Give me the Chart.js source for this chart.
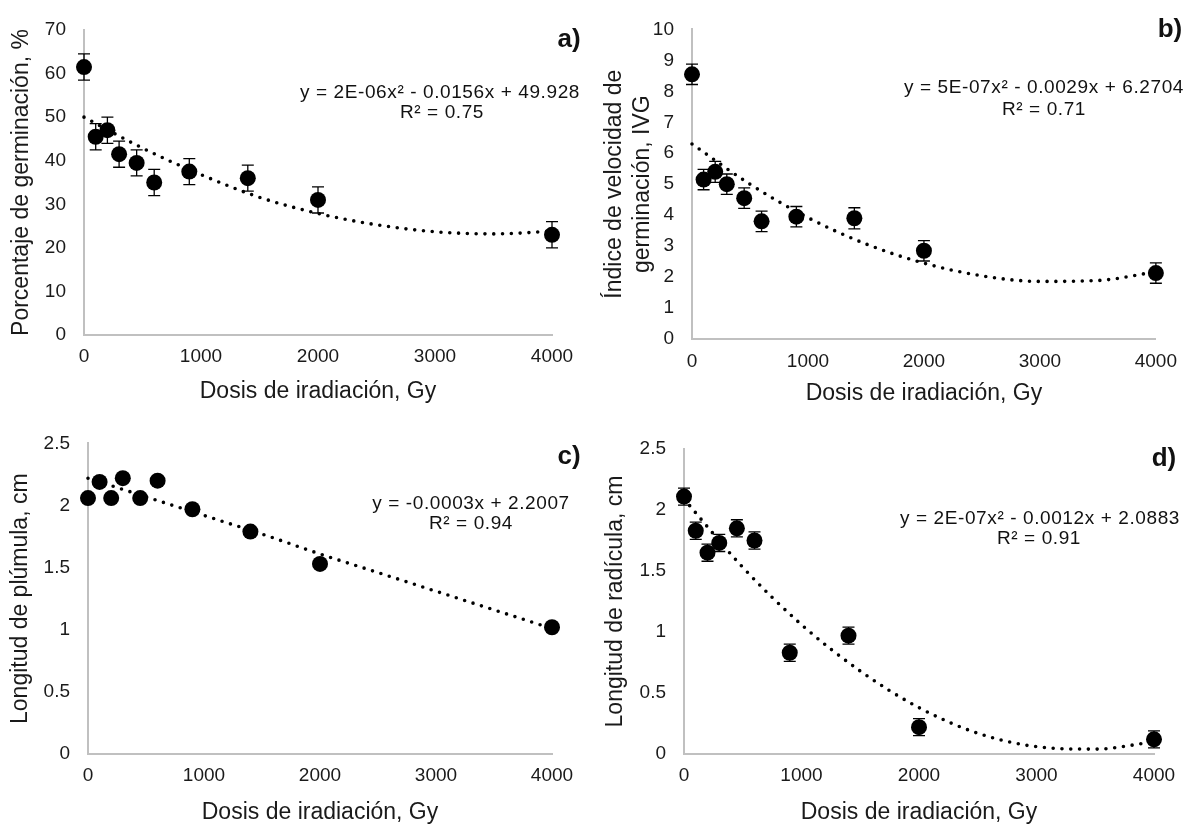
<!DOCTYPE html>
<html>
<head>
<meta charset="utf-8">
<script src="https://cdn.jsdelivr.net/npm/chart.js@4.4.1/dist/chart.umd.min.js"></script>
<style>
  body { margin: 0; background: #fff; }
  #wrap { position: relative; width: 1188px; height: 827px; }
  canvas { position: absolute; }
</style>
</head>
<body>
<div id="wrap">
  <canvas id="panelA" width="594" height="414" style="left:0;top:0"></canvas>
  <canvas id="panelB" width="594" height="414" style="left:594px;top:0"></canvas>
  <canvas id="panelC" width="594" height="413" style="left:0;top:414px"></canvas>
  <canvas id="panelD" width="594" height="413" style="left:594px;top:414px"></canvas>
</div>
<script>
// dosis de irradiación (Gy)
const doses = [0, 100, 200, 300, 450, 600, 900, 1400, 2000, 4000];

// a) porcentaje de germinación
const germinacion = [61.5, 45.5, 47.0, 41.5, 39.5, 35.0, 37.5, 36.0, 31.0, 23.0];
const germinacionErr = [3, 3, 3, 3, 3, 3, 3, 3, 3, 3];
// b) índice de velocidad de germinación
const ivg = [8.55, 5.15, 5.4, 5.0, 4.55, 3.8, 3.95, 3.9, 2.85, 2.13];
const ivgErr = [0.33, 0.33, 0.34, 0.33, 0.33, 0.33, 0.33, 0.34, 0.33, 0.33];
// c) longitud de plúmula
const plumula = [2.06, 2.19, 2.06, 2.22, 2.06, 2.2, 1.97, 1.79, 1.53, 1.02];
const plumulaErr = [0.02, 0.02, 0.02, 0.02, 0.02, 0.02, 0.02, 0.02, 0.02, 0.02];
// d) longitud de radícula
const radicula = [2.11, 1.83, 1.65, 1.73, 1.85, 1.75, 0.83, 0.97, 0.22, 0.12];
const radiculaErr = [0.07, 0.07, 0.07, 0.07, 0.07, 0.07, 0.07, 0.07, 0.07, 0.07];

// líneas de tendencia
const trendDoses = [0, 500, 1000, 1500, 2000, 2500, 3000, 3500, 4000];
const germinacionTrend = [50.0, 42.9, 36.8, 31.6, 27.9, 25.3, 23.7, 23.2, 23.8];
const ivgTrend = [6.3, 5.0, 3.92, 3.07, 2.45, 2.04, 1.86, 1.89, 2.17];
const plumulaTrend = [2.22, 2.07, 1.92, 1.77, 1.61, 1.46, 1.31, 1.16, 1.01];
const radiculaTrend = [2.09, 1.53, 1.06, 0.68, 0.38, 0.17, 0.06, 0.04, 0.10];

const xTitle = 'Dosis de iradiación, Gy';

Chart.defaults.font.family = "'Liberation Sans', Arial, sans-serif";
Chart.defaults.color = '#1a1a1a';

const errorBars = {
  id: 'errorBars',
  beforeDatasetsDraw(chart) {
    const ctx = chart.ctx;
    const xs = chart.scales.x, ys = chart.scales.y;
    ctx.save();
    ctx.strokeStyle = '#000';
    ctx.lineWidth = 1.3;
    chart.data.datasets.forEach(ds => {
      if (!ds.errorValues) return;
      ds.data.forEach((pt, i) => {
        const e = ds.errorValues[i];
        const px = xs.getPixelForValue(pt.x);
        const top = ys.getPixelForValue(pt.y + e);
        const bot = ys.getPixelForValue(pt.y - e);
        ctx.beginPath();
        ctx.moveTo(px, top); ctx.lineTo(px, bot);
        ctx.moveTo(px - 6, top); ctx.lineTo(px + 6, top);
        ctx.moveTo(px - 6, bot); ctx.lineTo(px + 6, bot);
        ctx.stroke();
      });
    });
    ctx.restore();
  }
};

function textPlugin(items) {
  return {
    id: 'panelText',
    afterDraw(chart) {
      const ctx = chart.ctx;
      ctx.save();
      ctx.fillStyle = '#111';
      ctx.textAlign = 'center';
      ctx.textBaseline = 'middle';
      items.forEach(it => {
        ctx.font = it.font;
        if ('letterSpacing' in ctx) ctx.letterSpacing = it.spacing || '0px';
        ctx.fillText(it.text, it.x, it.y);
      });
      ctx.restore();
    }
  };
}

function eqItems(eq, r2, letter, pos) {
  const f = "19px 'Liberation Sans', Arial, sans-serif";
  return [
    { text: eq, x: pos.eq[0], y: pos.eq[1], font: f, spacing: '0.6px' },
    { text: r2, x: pos.r2[0], y: pos.r2[1], font: f, spacing: '0.6px' },
    { text: letter, x: pos.letter[0], y: pos.letter[1], font: "bold 26px 'Liberation Sans', Arial, sans-serif" }
  ];
}

function makePanel(id, p) {
  const points = doses.map((d, i) => ({ x: d, y: p.values[i] }));
  const trend = trendDoses.map((d, i) => ({ x: d, y: p.trend[i] }));
  return new Chart(document.getElementById(id), {
    type: 'scatter',
    data: {
      datasets: [
        {
          data: trend, showLine: true, cubicInterpolationMode: 'monotone',
          borderColor: '#000', borderWidth: 3.6, borderDash: [0, 8.8], borderCapStyle: 'round',
          pointRadius: 0, clip: false, order: 2
        },
        {
          data: points, errorValues: p.errors,
          backgroundColor: '#000', borderColor: '#000', borderWidth: 0,
          pointRadius: 8, pointHoverRadius: 8, clip: false, order: 1
        }
      ]
    },
    options: {
      responsive: false,
      animation: false,
      events: [],
      layout: { padding: { left: 0, top: p.top, right: p.right, bottom: 0 } },
      plugins: { legend: { display: false }, tooltip: { enabled: false } },
      scales: {
        x: {
          type: 'linear', min: 0, max: 4000,
          grid: { display: false, drawTicks: false },
          border: { display: true, color: '#c0c0c0', width: 2 },
          ticks: { stepSize: 1000, padding: p.xTickPad, font: { size: 19 }, maxRotation: 0, callback: v => String(v) },
          title: { display: true, text: xTitle, font: { size: 23 }, padding: { top: 0, bottom: p.xTitlePad } },
          afterFit: s => { s.height = p.xh; }
        },
        y: {
          type: 'linear', min: 0, max: p.yMax,
          grid: { display: false, drawTicks: false },
          border: { display: true, color: '#c0c0c0', width: 2 },
          ticks: { stepSize: p.yStep, padding: 18, font: { size: 19 }, callback: v => String(v) },
          title: { display: true, text: p.yTitle, font: { size: 23, lineHeight: 1.2 }, padding: { top: p.yTitlePad, bottom: 0 } },
          afterFit: s => { s.width = p.yw; }
        }
      }
    },
    plugins: [errorBars, textPlugin(p.texts)]
  });
}

makePanel('panelA', {
  values: germinacion, errors: germinacionErr, trend: germinacionTrend,
  yMax: 70, yStep: 10, yTitle: 'Porcentaje de germinación, %',
  top: 30, right: 42, yw: 84, xh: 79, xTickPad: 10, xTitlePad: 9, yTitlePad: 8,
  texts: eqItems('y = 2E-06x² - 0.0156x + 49.928', 'R² = 0.75', 'a)',
    { eq: [440, 93], r2: [442, 113], letter: [569, 40] })
});

makePanel('panelB', {
  values: ivg, errors: ivgErr, trend: ivgTrend,
  yMax: 10, yStep: 1, yTitle: ['Índice de velocidad de', 'germinación, IVG'],
  top: 20, right: 32, yw: 98, xh: 75, xTickPad: 11, xTitlePad: 7, yTitlePad: 7,
  texts: eqItems('y = 5E-07x² - 0.0029x + 6.2704', 'R² = 0.71', 'b)',
    { eq: [450, 88], r2: [450, 110], letter: [576, 30] })
});

makePanel('panelC', {
  values: plumula, errors: plumulaErr, trend: plumulaTrend,
  yMax: 2.5, yStep: 0.5, yTitle: 'Longitud de plúmula, cm',
  top: 28, right: 42, yw: 88, xh: 73, xTickPad: 10, xTitlePad: 1, yTitlePad: 7,
  texts: eqItems('y = -0.0003x + 2.2007', 'R² = 0.94', 'c)',
    { eq: [471, 90], r2: [471, 110], letter: [569, 43] })
});

makePanel('panelD', {
  values: radicula, errors: radiculaErr, trend: radiculaTrend,
  yMax: 2.5, yStep: 0.5, yTitle: 'Longitud de radícula, cm',
  top: 35, right: 34, yw: 90, xh: 73, xTickPad: 10, xTitlePad: 1, yTitlePad: 8,
  texts: eqItems('y = 2E-07x² - 0.0012x + 2.0883', 'R² = 0.91', 'd)',
    { eq: [446, 105], r2: [445, 125], letter: [570, 45] })
});
</script>
</body>
</html>
